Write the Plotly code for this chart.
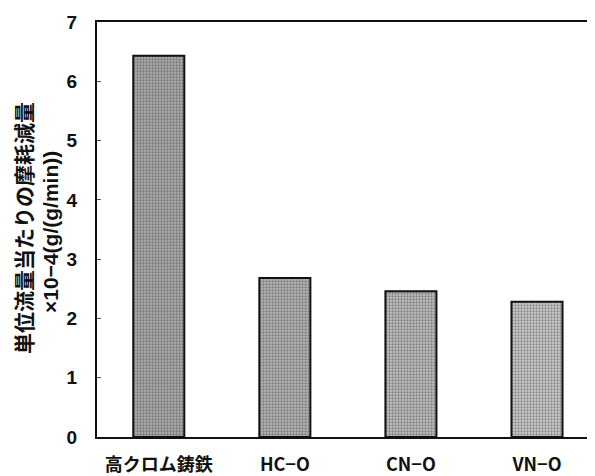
import plotly.graph_objects as go

categories = ["高クロム鋳鉄", "HC−O", "CN−O", "VN−O"]
values = [6.43, 2.68, 2.46, 2.28]
y_ticks = [0, 1, 2, 3, 4, 5, 6, 7]
y_title_1 = "単位流量当たりの摩耗減量"
y_title_2 = "×10−4(g/(g/min))"

bg_colors = ["#adadad", "#b6b6b6", "#bfbfbf", "#cdcdcd"]
fg_colors = ["#2a2a2a", "#363636", "#424242", "#525252"]

num_font = "Liberation Sans Narrow, Liberation Sans, Arial, sans-serif"
lat_font = "Liberation Sans, Arial, sans-serif"
cjk_font = "Noto Sans CJK JP, Liberation Sans, sans-serif"

fig = go.Figure(
    go.Bar(
        x=list(range(len(categories))),
        y=values,
        width=0.405,
        marker=dict(
            color=bg_colors,
            line=dict(color="#111111", width=2),
            pattern=dict(shape=".", fgcolor=fg_colors, size=3, solidity=0.45,
                         fillmode="overlay"),
        ),
        hoverinfo="skip",
    )
)

# page body has an 8px margin, so the figure is sized / offset to compensate
fig.update_layout(
    width=587,
    height=468,
    margin=dict(l=89, r=0, t=14, b=39),
    paper_bgcolor="white",
    plot_bgcolor="white",
    showlegend=False,
    font=dict(family=num_font, color="#111111"),
)

fig.update_xaxes(
    range=[-0.49, 3.46],
    tickmode="array",
    tickvals=list(range(len(categories))),
    ticktext=[f"<b>{c}</b>" for c in categories],
    tickfont=dict(family=cjk_font, size=18, color="#111111"),
    showline=True, linecolor="#111111", linewidth=2, mirror=True,
    ticks="", showgrid=False, zeroline=False,
    ticklabelstandoff=10,
)

fig.update_yaxes(
    range=[0, 7],
    tickmode="array",
    tickvals=y_ticks,
    ticktext=[f"<b>{t}</b>" for t in y_ticks],
    tickfont=dict(family=num_font, size=19, color="#111111"),
    showline=True, linecolor="#111111", linewidth=2, mirror=False,
    ticks="inside", ticklen=4, tickcolor="#555555",
    showgrid=False, zeroline=False,
    ticklabelstandoff=14,
)

fig.add_annotation(
    text=f"<b>{y_title_1}</b>", xref="paper", yref="paper",
    x=(23 - 97) / 498, y=(437 - 228) / 415, xanchor="center", yanchor="middle",
    textangle=-90, showarrow=False,
    font=dict(family=cjk_font, size=21, color="#111111"),
)
fig.add_annotation(
    text=f"<b>{y_title_2}</b>", xref="paper", yref="paper",
    x=(50 - 97) / 498, y=(437 - 232) / 415, xanchor="center", yanchor="middle",
    textangle=-90, showarrow=False,
    font=dict(family=lat_font, size=21, color="#111111"),
)

fig.write_html("out.html")
